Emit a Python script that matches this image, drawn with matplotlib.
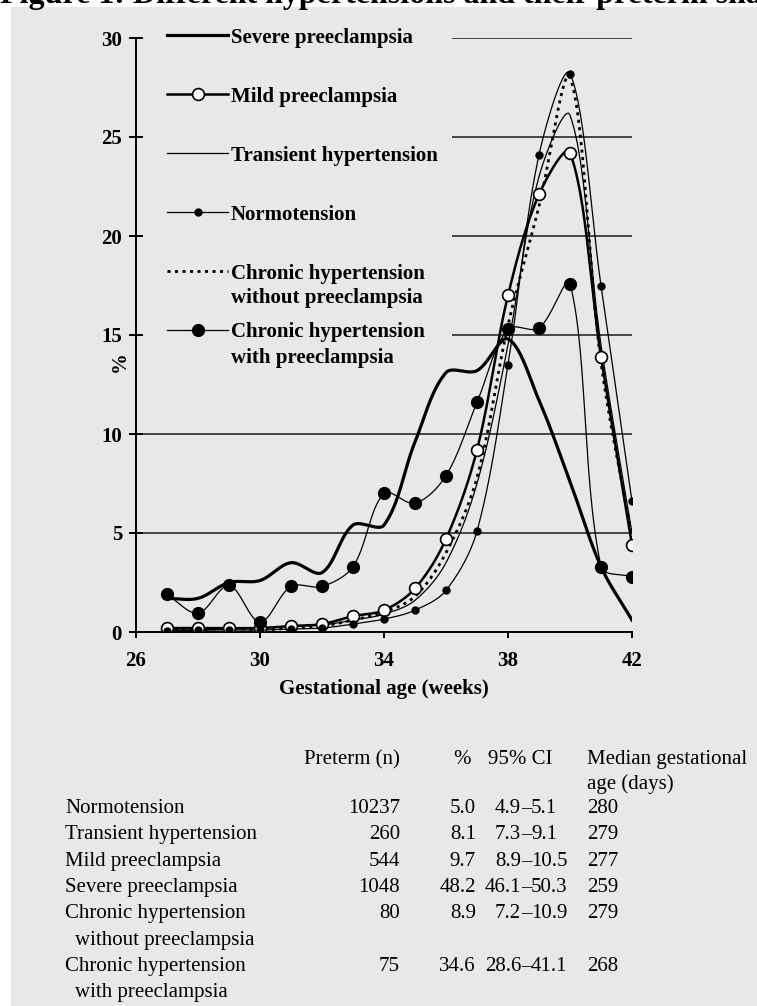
import numpy as np
import matplotlib
matplotlib.use("Agg")
import matplotlib.pyplot as plt
from matplotlib.patches import Rectangle

plt.rcParams['font.family'] = ['Liberation Serif', 'DejaVu Serif']

# preterm share (%) by gestational week
weeks = np.arange(27, 43)
severe = [1.7, 1.7, 2.5, 2.6, 3.5, 3.0, 5.4, 5.4, 9.6, 13.1, 13.2, 14.8, 11.7, 7.6, 3.3, 0.6]
mild = [0.2, 0.2, 0.2, 0.2, 0.3, 0.4, 0.8, 1.1, 2.2, 4.7, 9.2, 17.0, 22.1, 24.2, 13.9, 4.4]
transient = [0.1, 0.1, 0.15, 0.2, 0.3, 0.35, 0.6, 0.9, 1.6, 3.5, 7.5, 14.5, 23.0, 26.1, 14.5, 5.0]
normo = [0.05, 0.1, 0.1, 0.1, 0.15, 0.2, 0.4, 0.65, 1.1, 2.1, 5.1, 13.5, 24.1, 28.2, 17.5, 6.6]
chronic_without = [0.1, 0.1, 0.2, 0.1, 0.2, 0.3, 0.6, 1.0, 1.8, 4.0, 7.8, 15.5, 21.5, 28.0, 13.6, 4.8]
chronic_with = [1.9, 0.95, 2.35, 0.5, 2.3, 2.3, 3.3, 7.0, 6.5, 7.9, 11.6, 15.3, 15.35, 17.6, 3.3, 2.8]

xticks = [26, 30, 34, 38, 42]
yticks = [0, 5, 10, 15, 20, 25, 30]
grid_full = [5, 10]
grid_short = [15, 20, 25, 30]

# table under the chart
groups = ['Normotension', 'Transient hypertension', 'Mild preeclampsia',
          'Severe preeclampsia', 'Chronic hypertension\nwithout preeclampsia',
          'Chronic hypertension\nwith preeclampsia']
preterm_n = [10237, 260, 544, 1048, 80, 75]
pct = [5.0, 8.1, 9.7, 48.2, 8.9, 34.6]
ci_lo = [4.9, 7.3, 8.9, 46.1, 7.2, 28.6]
ci_hi = [5.1, 9.1, 10.5, 50.3, 10.9, 41.1]
median_days = [280, 279, 277, 259, 279, 268]

W, H = 757, 1006
fig = plt.figure(figsize=(W / 100, H / 100), dpi=100)
fig.patch.set_facecolor('white')
fig.patches.append(Rectangle((11 / W, 0), 1, 1 - 7 / H, transform=fig.transFigure,
                             facecolor='#e8e8e8', edgecolor='none', zorder=-10))

fig.text(0, 1 - 3 / H, 'Figure 1: Different hypertensions and their preterm shares',
         fontsize=23, fontweight='bold', va='baseline', ha='left')

ax = fig.add_axes([136 / W, 1 - 632 / H, 496 / W, 594 / H])
ax.set_facecolor('none')
ax.set_xlim(26, 42)
ax.set_ylim(0, 30)


def smooth(x, y, n=30):
    # bezier smoothing done in display space, like spreadsheet "smoothed lines"
    p = ax.transData.transform(np.column_stack([x, y]))
    out = [p[0]]
    t = np.linspace(0, 1, n)[1:, None]
    for i in range(len(p) - 1):
        p0 = p[i - 1] if i > 0 else p[i]
        p1, p2 = p[i], p[i + 1]
        p3 = p[i + 2] if i + 2 < len(p) else p[i + 1]
        d01 = np.hypot(*(p1 - p0))
        d12 = np.hypot(*(p2 - p1))
        d23 = np.hypot(*(p3 - p2))
        c1 = p1 + (p2 - p0) * d12 / (d01 + d12) / 3
        c2 = p2 - (p3 - p1) * d12 / (d12 + d23) / 3
        seg = ((1 - t) ** 3 * p1 + 3 * (1 - t) ** 2 * t * c1
               + 3 * (1 - t) * t ** 2 * c2 + t ** 3 * p2)
        out.extend(seg)
    out = ax.transData.inverted().transform(np.array(out))
    return out[:, 0], out[:, 1]


line_styles = {
    'severe': dict(color='black', lw=2.3),
    'mild': dict(color='black', lw=1.8),
    'transient': dict(color='black', lw=0.9),
    'normo': dict(color='black', lw=0.9),
    'without': dict(color='black', lw=2.0, dashes=(1.1, 1.6)),
    'with': dict(color='black', lw=0.9),
}
marker_styles = {
    'mild': dict(marker='o', ms=8.5, mfc='white', mec='black', mew=1.2),
    'normo': dict(marker='o', ms=5, mfc='black', mec='black'),
    'with': dict(marker='o', ms=8.5, mfc='black', mec='black'),
}

series = [
    ('severe', 'Severe preeclampsia', severe),
    ('mild', 'Mild preeclampsia', mild),
    ('transient', 'Transient hypertension', transient),
    ('normo', 'Normotension', normo),
    ('without', 'Chronic hypertension\nwithout preeclampsia', chronic_without),
    ('with', 'Chronic hypertension\nwith preeclampsia', chronic_with),
]

# gridlines: the upper ones stop short to leave room for the legend
for g in grid_full:
    ax.axhline(g, color='#1a1a1a', lw=1.1, zorder=0)
for g in grid_short:
    ax.hlines(g, 36.2, 42, color='#1a1a1a', lw=1.1, zorder=0)

for key, label, vals in series:
    sx, sy = smooth(weeks, vals)
    ax.plot(sx, sy, zorder=2, **line_styles[key])
    if key in marker_styles:
        ax.plot(weeks, vals, ls='none', zorder=3, **marker_styles[key])

# legend drawn by hand: key line, optional marker, bold label
leg_top = (632 - 35) / 594
leg_step = 59 / 594
leg_line = 25 / 594
kx0, kx1, tx = 31 / 496, 92 / 496, 95 / 496
for i, (key, label, vals) in enumerate(series):
    yy = leg_top - i * leg_step
    ax.plot([kx0, kx1], [yy, yy], transform=ax.transAxes, clip_on=False,
            **line_styles[key])
    if key in marker_styles:
        ax.plot([(kx0 + kx1) / 2], [yy], transform=ax.transAxes, clip_on=False,
                ls='none', **marker_styles[key])
    for k, part in enumerate(label.split('\n')):
        ax.text(tx, yy - k * leg_line, part, transform=ax.transAxes, fontsize=15,
                fontweight='bold', va='center_baseline', ha='left')

for s in ['top', 'right']:
    ax.spines[s].set_visible(False)
for s in ['left', 'bottom']:
    ax.spines[s].set_linewidth(1.4)

ax.set_xticks(xticks)
ax.set_yticks(yticks)
ax.tick_params(axis='y', direction='inout', length=10, width=1.4, pad=5, labelsize=15)
ax.tick_params(axis='x', direction='out', length=4.5, width=1.4, pad=9, labelsize=15)
for lab in ax.get_xticklabels() + ax.get_yticklabels():
    lab.set_fontweight('bold')
ax.set_xlabel('Gestational age (weeks)', fontsize=15, fontweight='bold', labelpad=6)
ax.set_ylabel('%', fontsize=15, fontweight='bold')
ax.yaxis.set_label_coords(-0.012, 0.455)

# table
fs = 15


def fy(py):
    return 1 - py / H


fig.text(400 / W, fy(757), 'Preterm (n)', fontsize=fs, ha='right', va='center_baseline')
fig.text(471 / W, fy(757), '%', fontsize=fs, ha='right', va='center_baseline')
fig.text(488 / W, fy(757), '95% CI', fontsize=fs, ha='left', va='center_baseline')
fig.text(587 / W, fy(757), 'Median gestational', fontsize=fs, ha='left', va='center_baseline')
fig.text(587 / W, fy(782), 'age (days)', fontsize=fs, ha='left', va='center_baseline')

row_h = 26.3
line = 0
for g, n, p, lo, hi, md in zip(groups, preterm_n, pct, ci_lo, ci_hi, median_days):
    yy = 806 + line * row_h
    parts = g.split('\n')
    fig.text(65 / W, fy(yy), parts[0], fontsize=fs, ha='left', va='center_baseline')
    for k, extra in enumerate(parts[1:], start=1):
        fig.text(75 / W, fy(yy + k * row_h), extra, fontsize=fs, ha='left',
                 va='center_baseline')
    fig.text(400 / W, fy(yy), str(n), fontsize=fs, ha='right', va='center_baseline')
    fig.text(476 / W, fy(yy), f'{p:.1f}', fontsize=fs, ha='right', va='center_baseline')
    fig.text(521 / W, fy(yy), f'{lo:.1f}', fontsize=fs, ha='right', va='center_baseline')
    fig.text(526 / W, fy(yy), '\u2013', fontsize=fs, ha='center', va='center_baseline')
    fig.text(531 / W, fy(yy), f'{hi:.1f}', fontsize=fs, ha='left', va='center_baseline')
    fig.text(587 / W, fy(yy), str(md), fontsize=fs, ha='left', va='center_baseline')
    line += len(parts)

fig.savefig('out.png', dpi=100)
